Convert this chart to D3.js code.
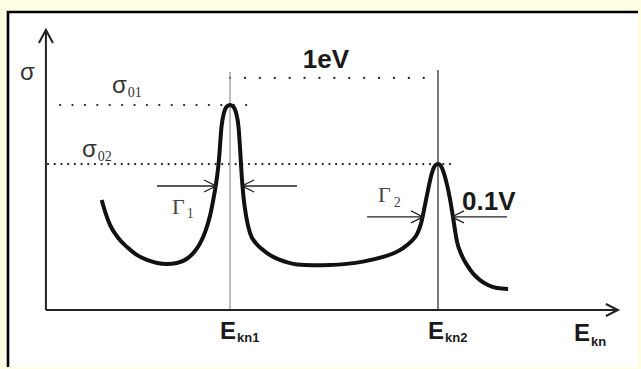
<!DOCTYPE html>
<html>
<head>
<meta charset="utf-8">
<script src="https://cdn.jsdelivr.net/npm/d3@7"></script>
<style>
  html, body { margin: 0; padding: 0; background: #fffee3; }
  svg { display: block; }
</style>
</head>
<body>
<svg id="chart" width="641" height="369"></svg>
<script>
// Resonance cross-section σ(E_kn): two resonances 1 eV apart (energy in eV relative to E_kn1,
// cross-section normalised to the first peak σ01).
const curveE = [-0.617, -0.600, -0.577, -0.540, -0.495, -0.450, -0.399, -0.350, -0.303, -0.255, -0.207,
  -0.170, -0.144, -0.118, -0.096, -0.080, -0.068, -0.060, -0.053, -0.041, -0.029, -0.014, 0.000,
  0.014, 0.029, 0.041, 0.050, 0.056, 0.064, 0.078, 0.096, 0.125, 0.159, 0.200, 0.240, 0.280, 0.322,
  0.400, 0.481, 0.560, 0.639, 0.736, 0.790, 0.832, 0.870, 0.899, 0.918, 0.935, 0.952, 0.966, 0.980,
  0.991, 1.000, 1.009, 1.022, 1.040, 1.058, 1.072, 1.091, 1.115, 1.139, 1.170, 1.202, 1.240, 1.284, 1.337];
const curveSigma = [0.537, 0.478, 0.415, 0.355, 0.307, 0.270, 0.244, 0.229, 0.224, 0.229, 0.250,
  0.285, 0.325, 0.385, 0.460, 0.540, 0.610, 0.668, 0.735, 0.893, 0.962, 0.994, 1.000,
  0.994, 0.962, 0.893, 0.760, 0.660, 0.560, 0.455, 0.376, 0.325, 0.293, 0.263, 0.244, 0.231, 0.222,
  0.218, 0.219, 0.225, 0.236, 0.259, 0.278, 0.302, 0.333, 0.370, 0.420, 0.500, 0.585, 0.650, 0.694,
  0.709, 0.712, 0.709, 0.685, 0.625, 0.540, 0.454, 0.335, 0.265, 0.220, 0.176, 0.146, 0.122, 0.107, 0.102];

const resonanceE = [0, 1];            // E_kn1, E_kn2
const resonanceSigma = [1.0, 0.712];  // σ01, σ02
const resonanceSubs = ["kn1", "kn2"];
const sigmaSubs = ["01", "02"];
const widthSubs = ["1", "2"];
const spacingLabel = "1eV";
const widthLabel = "0.1V";

// Axis extents (data units)
const eRange = [-0.885, 1.865];
const sigmaTop = 1.366;

const svg = d3.select("#chart");

// Panel
svg.append("rect").attr("x", 8).attr("y", 12).attr("width", 630).attr("height", 355)
  .attr("fill", "#ffffff");
svg.append("path").attr("d", "M8,367V12H638")
  .attr("fill", "none").attr("stroke", "#000").attr("stroke-width", 2.6);

const x = d3.scaleLinear().domain([0, 1]).range([230, 438]);
const y = d3.scaleLinear().domain([0, 1]).range([310, 105]);

const g = svg.append("g");

// Dotted guide lines
function dotted(x1, x2, yy, gap, w) {
  g.append("line").attr("x1", x1).attr("x2", x2).attr("y1", yy).attr("y2", yy)
    .attr("stroke", "#222").attr("stroke-width", w)
    .attr("stroke-linecap", "round").attr("stroke-dasharray", `0.1 ${gap}`);
}
dotted(x(-0.817), x(0.13), y(resonanceSigma[0]), 12.3, 2.2);
dotted(x(-0.875), x(1.075), y(resonanceSigma[1]), 6.6, 2.2);
dotted(x(resonanceE[0]), x(resonanceE[1]), y(1.132), 14.8, 2.2);

// Resonance markers
g.append("line").attr("x1", x(resonanceE[0])).attr("x2", x(resonanceE[0]))
  .attr("y1", y(1.161)).attr("y2", y(0)).attr("stroke", "#9a9a9a").attr("stroke-width", 1.3);
g.append("line").attr("x1", x(resonanceE[1])).attr("x2", x(resonanceE[1]))
  .attr("y1", y(1.171)).attr("y2", y(0)).attr("stroke", "#333").attr("stroke-width", 1.3);

// Axes with open arrowheads
const axisStroke = "#222";
g.append("path")
  .attr("d", `M${x(eRange[0])},${y(0)}V${y(sigmaTop)}M${x(eRange[0]) - 7},${y(sigmaTop) + 13}L${x(eRange[0])},${y(sigmaTop)}L${x(eRange[0]) + 7},${y(sigmaTop) + 13}`)
  .attr("fill", "none").attr("stroke", axisStroke).attr("stroke-width", 2);
g.append("path")
  .attr("d", `M${x(eRange[0])},${y(0)}H${x(eRange[1])}M${x(eRange[1]) - 12},${y(0) - 6}L${x(eRange[1])},${y(0)}L${x(eRange[1]) - 12},${y(0) + 6}`)
  .attr("fill", "none").attr("stroke", axisStroke).attr("stroke-width", 2);

// Cross-section curve
const line = d3.line().x((d, i) => x(curveE[i])).y((d, i) => y(curveSigma[i]))
  .curve(d3.curveMonotoneX);
g.append("path").datum(curveE).attr("d", line)
  .attr("fill", "none").attr("stroke", "#111").attr("stroke-width", 4)
  .attr("stroke-linecap", "butt").attr("stroke-linejoin", "round");

// Width arrows
function arrow(eFrom, eTo, s) {
  const x1 = x(eFrom), x2 = x(eTo), yy = y(s);
  const dir = x2 > x1 ? 1 : -1;
  g.append("path")
    .attr("d", `M${x1},${yy}H${x2}M${x2 - dir * 12},${yy - 6}L${x2},${yy}L${x2 - dir * 12},${yy + 6}`)
    .attr("fill", "none").attr("stroke", "#222").attr("stroke-width", 1.3);
}
arrow(-0.351, -0.067, 0.605);
arrow(0.322, 0.058, 0.605);
arrow(0.659, 0.928, 0.454);
arrow(1.332, 1.067, 0.454);

// Labels
const serif = "'Liberation Serif', 'DejaVu Serif', serif";
const sans = "'Liberation Sans', Arial, sans-serif";

function subLabel(px, py, main, sub, opts) {
  const t = svg.append("text").attr("x", px).attr("y", py)
    .attr("font-family", opts.family).attr("fill", opts.color)
    .attr("font-weight", opts.weight || "normal");
  t.append("tspan").attr("font-size", opts.size).attr("font-family", opts.mainFamily || opts.family).text(main);
  t.append("tspan").attr("font-size", opts.subSize).attr("dy", opts.dy).attr("dx", opts.dx || 0).text(sub);
  return t;
}

// σ axis label
svg.append("text").attr("x", 20).attr("y", 80).attr("font-family", sans)
  .attr("font-size", 24).attr("fill", "#333").text("σ");

// σ01, σ02
subLabel(112, 93, "σ", sigmaSubs[0], { family: serif, mainFamily: sans, color: "#333", size: 24, subSize: 14, dy: 4, dx: 1 });
subLabel(82, 157, "σ", sigmaSubs[1], { family: serif, mainFamily: sans, color: "#333", size: 24, subSize: 14, dy: 4, dx: 1 });

// Γ1, Γ2
subLabel(172, 214, "Γ", widthSubs[0], { family: serif, color: "#444", size: 22, subSize: 14, dy: 4, dx: 2 });
subLabel(378, 202, "Γ", widthSubs[1], { family: serif, color: "#444", size: 22, subSize: 14, dy: 5, dx: 3 });

// 1eV and 0.1V
svg.append("text").attr("x", 326).attr("y", 68).attr("text-anchor", "middle")
  .attr("font-family", sans).attr("font-weight", "bold").attr("font-size", 26)
  .attr("fill", "#1a1a1a").text(spacingLabel);
svg.append("text").attr("x", 462).attr("y", 210)
  .attr("font-family", sans).attr("font-weight", "bold").attr("font-size", 26)
  .attr("fill", "#1a1a1a").text(widthLabel);

// Energy labels
resonanceE.forEach((e, i) => {
  subLabel(x(e) - 10, 339, "E", resonanceSubs[i], { family: sans, color: "#1a1a1a", weight: "bold", size: 24, subSize: 13, dy: 3, dx: 1 });
});
subLabel(574, 341, "E", "kn", { family: sans, color: "#1a1a1a", weight: "bold", size: 24, subSize: 13, dy: 5, dx: 1 });
</script>
</body>
</html>
